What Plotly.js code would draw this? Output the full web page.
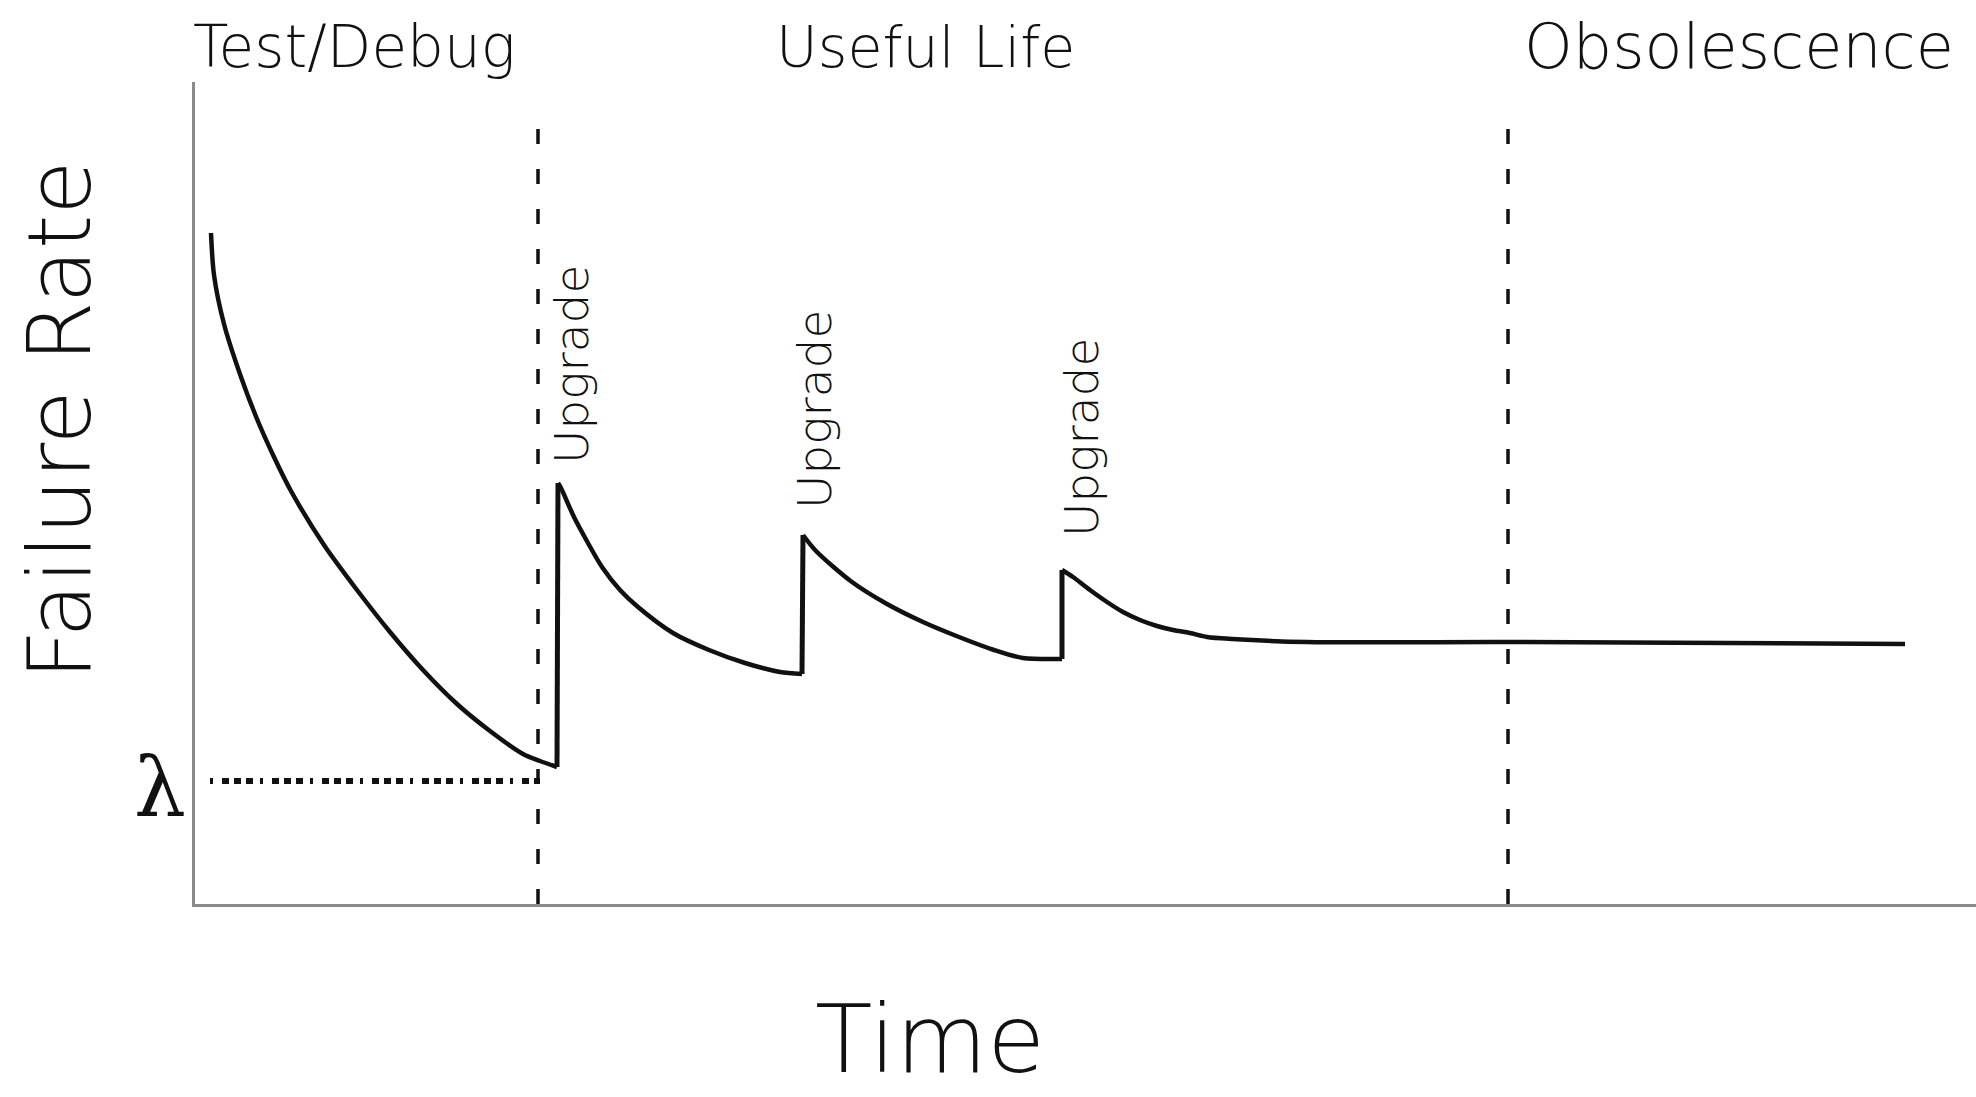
<!DOCTYPE html>
<html>
<head>
<meta charset="utf-8">
<script src="https://cdn.plot.ly/plotly-3.0.1.min.js"></script>
<style>html,body{margin:0;padding:0;background:#fff;}#chart{width:1976px;height:1097px;}</style>
</head>
<body>
<div id="chart"></div>
<script>
// Failure-rate curve, one array pair per decay segment
const seg1Time = [1.6, 1.9, 2.9, 4.6, 6.2, 7.9, 9.6, 12.9, 16.2, 19.5, 22.8, 26.2, 29.5, 32.8, 34.5, 36.2];
const seg1Rate = [67.1, 62.9, 58.0, 52.7, 48.5, 44.7, 41.3, 35.9, 31.4, 27.2, 23.4, 20.0, 17.3, 15.0, 14.3, 13.7];
const seg2Time = [36.3, 36.6, 37.9, 39.3, 40.7, 42.5, 44.3, 47.8, 51.4, 55.0, 58.5, 60.7];
const seg2Rate = [42.1, 41.6, 38.7, 36.1, 33.7, 31.4, 29.7, 27.1, 25.4, 24.1, 23.2, 23.0];
const seg3Time = [60.8, 62.1, 65.7, 69.2, 72.8, 76.4, 79.9, 82.8, 86.7];
const seg3Rate = [36.9, 35.3, 32.2, 30.0, 28.2, 26.7, 25.4, 24.6, 24.5];
const seg4Time = [86.7, 87.8, 89.5, 91.2, 92.8, 94.5, 96.2, 97.8, 99.5, 101.2, 103.7, 111.2, 131.2, 171.0];
const seg4Rate = [33.4, 32.7, 31.4, 30.2, 29.2, 28.4, 27.8, 27.4, 27.1, 26.7, 26.5, 26.2, 26.2, 26.0];

const phaseBoundaries = [34.3, 131.3];
const boundaryTop = 77.8;
const lambdaLevel = 12.3;
const lambdaSpan = [1.5, 34.5];
const phaseLabels = ['Test/Debug', 'Useful Life', 'Obsolescence'];
const upgradeLabel = 'Upgrade';
const xTitle = 'Time';
const yTitle = 'Failure Rate';
const lambdaLabel = 'λ';
const xRange = [0, 178.1];
const yRange = [0, 82.2];

const FONT = '"DejaVu Sans", "Liberation Sans", sans-serif';
const INK = '#111';

const traces = [];
phaseBoundaries.forEach(function (b) {
  traces.push({
    x: [b, b], y: [0, boundaryTop], mode: 'lines', hoverinfo: 'skip',
    line: {color: INK, width: 3.5, dash: '15px,25px'}, showlegend: false
  });
});
traces.push({
  x: lambdaSpan, y: [lambdaLevel, lambdaLevel], mode: 'lines', hoverinfo: 'skip',
  line: {color: INK, width: 6, dash: '3px,9px,7px,5px,7px,5px,7px,7px'}, showlegend: false
});
const segs = [[seg1Time, seg1Rate], [seg2Time, seg2Rate], [seg3Time, seg3Rate], [seg4Time, seg4Rate]];
segs.forEach(function (s, i) {
  traces.push({
    x: s[0], y: s[1], mode: 'lines', showlegend: false,
    line: {color: INK, width: 4.5, shape: 'spline', smoothing: 0.8}
  });
  if (i < segs.length - 1) {
    const nx = segs[i + 1][0], ny = segs[i + 1][1];
    // vertical jump at each upgrade: from end of this segment to start of next
    traces.push({
      x: [s[0][s[0].length - 1], nx[0]], y: [s[1][s[1].length - 1], ny[0]], mode: 'lines',
      showlegend: false, line: {color: INK, width: 5}
    });
  }
});

function ann(text, x, y, size, extra) {
  return Object.assign({
    text: text, x: x, y: y, xref: 'paper', yref: 'paper', showarrow: false,
    xanchor: 'center', yanchor: 'middle',
    font: {family: FONT, color: INK, size: size, weight: 200}
  }, extra || {});
}

const annotations = [
  ann(phaseLabels[0], 0.0893, 1.043, 58),
  ann(phaseLabels[1], 0.4104, 1.043, 57),
  ann(phaseLabels[2], 0.8669, 1.043, 62),
  Object.assign(ann(upgradeLabel, 37.6, 53.9, 47, {textangle: -90}), {xref: 'x', yref: 'y'}),
  Object.assign(ann(upgradeLabel, 61.9, 49.4, 47, {textangle: -90}), {xref: 'x', yref: 'y'}),
  Object.assign(ann(upgradeLabel, 88.6, 46.6, 47, {textangle: -90}), {xref: 'x', yref: 'y'}),
  ann(yTitle, -0.0758, 0.5876, 88, {textangle: -90}),
  ann(xTitle, 0.4127, -0.2335, 94, {yanchor: 'bottom'}),
  ann(lambdaLabel, -0.0197, 0.1423, 82, {font: {family: '"DejaVu Serif", "Liberation Serif", serif', color: INK, size: 82}})
];

const layout = {
  width: 1976, height: 1097,
  margin: {l: 195, r: 0, t: 82, b: 193, pad: 0},
  paper_bgcolor: '#fff', plot_bgcolor: '#fff',
  showlegend: false,
  xaxis: {range: xRange, showline: true, linecolor: '#8a8a8a', linewidth: 3, showgrid: false,
    zeroline: false, showticklabels: false, ticks: '', fixedrange: true},
  yaxis: {range: yRange, showline: true, linecolor: '#8a8a8a', linewidth: 3, showgrid: false,
    zeroline: false, showticklabels: false, ticks: '', fixedrange: true},
  annotations: annotations,
  font: {family: FONT, color: INK}
};

Plotly.newPlot('chart', traces, layout, {displayModeBar: false, staticPlot: true});
</script>
</body>
</html>
